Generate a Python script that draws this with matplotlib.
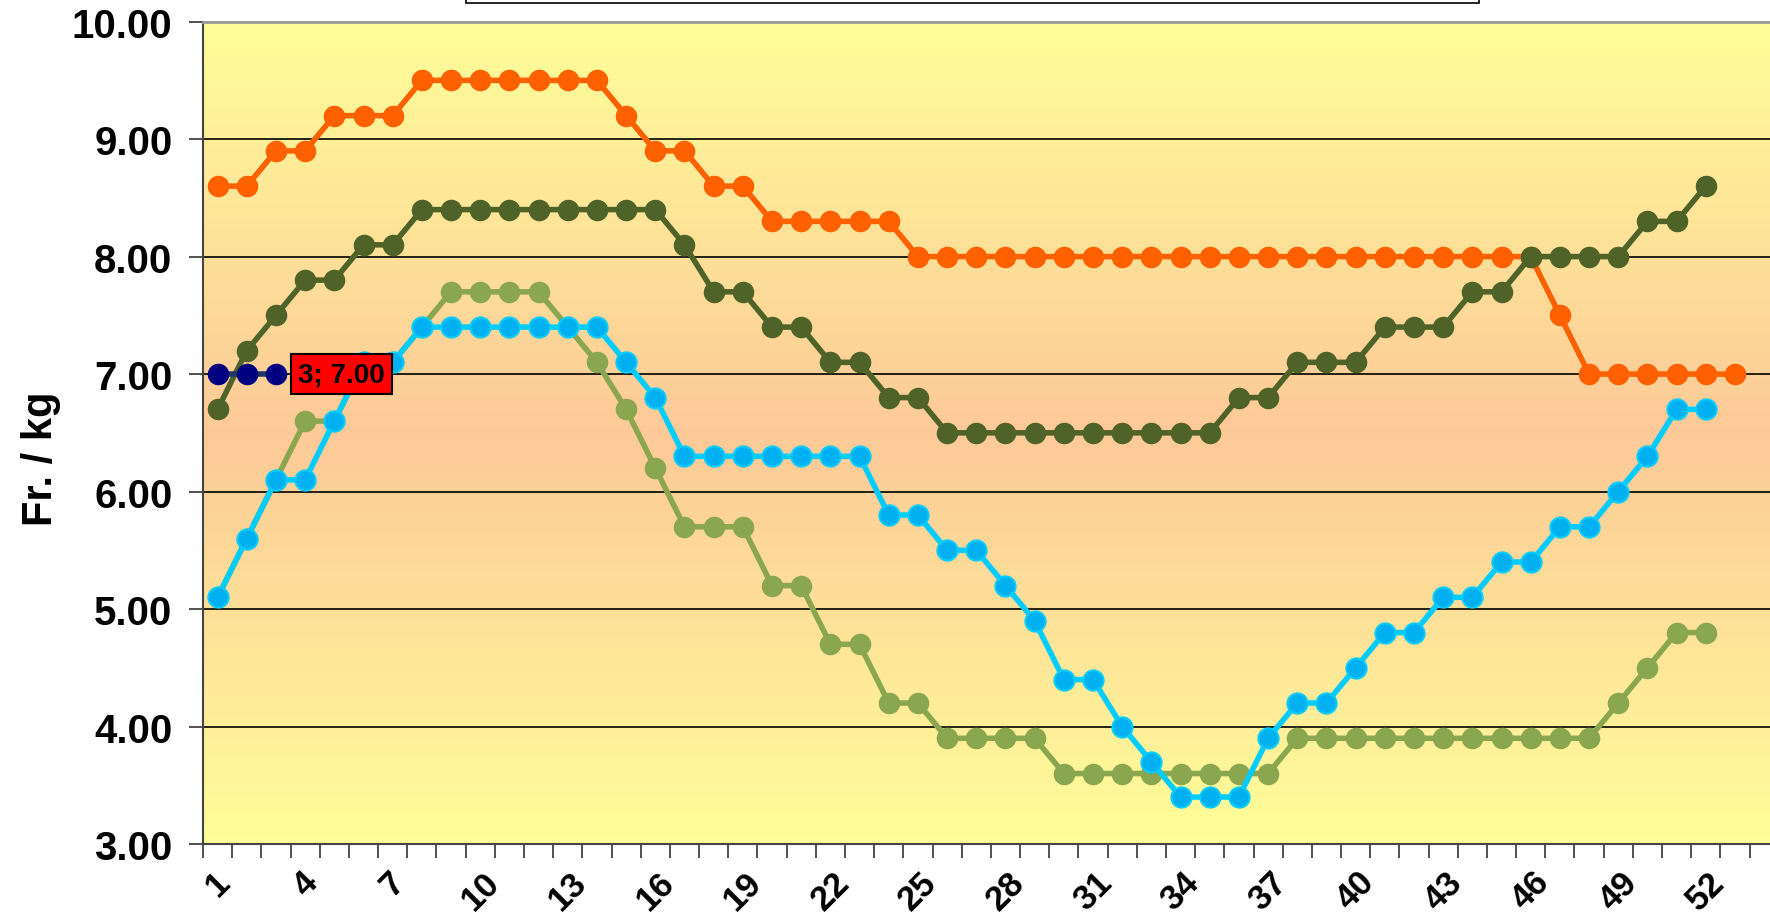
import matplotlib
matplotlib.use("Agg")
import matplotlib.pyplot as plt
import numpy as np
from matplotlib.colors import LinearSegmentedColormap
from matplotlib.patches import Rectangle

plt.rcParams['font.family'] = ['Liberation Sans', 'DejaVu Sans']
plt.rcParams['font.weight'] = 'bold'

orange = [8.6, 8.6, 8.9, 8.9, 9.2, 9.2, 9.2, 9.5, 9.5, 9.5, 9.5, 9.5, 9.5, 9.5,
          9.2, 8.9, 8.9, 8.6, 8.6, 8.3, 8.3, 8.3, 8.3, 8.3, 8.0, 8.0, 8.0, 8.0,
          8.0, 8.0, 8.0, 8.0, 8.0, 8.0, 8.0, 8.0, 8.0, 8.0, 8.0, 8.0, 8.0, 8.0,
          8.0, 8.0, 8.0, 8.0, 7.5, 7.0, 7.0, 7.0, 7.0, 7.0, 7.0]
dark_olive = [6.7, 7.2, 7.5, 7.8, 7.8, 8.1, 8.1, 8.4, 8.4, 8.4, 8.4, 8.4, 8.4, 8.4,
              8.4, 8.4, 8.1, 7.7, 7.7, 7.4, 7.4, 7.1, 7.1, 6.8, 6.8, 6.5, 6.5, 6.5,
              6.5, 6.5, 6.5, 6.5, 6.5, 6.5, 6.5, 6.8, 6.8, 7.1, 7.1, 7.1, 7.4, 7.4,
              7.4, 7.7, 7.7, 8.0, 8.0, 8.0, 8.0, 8.3, 8.3, 8.6]
light_olive = [5.1, 5.6, 6.1, 6.6, 6.6, 7.1, 7.1, 7.4, 7.7, 7.7, 7.7, 7.7, 7.4, 7.1,
               6.7, 6.2, 5.7, 5.7, 5.7, 5.2, 5.2, 4.7, 4.7, 4.2, 4.2, 3.9, 3.9, 3.9,
               3.9, 3.6, 3.6, 3.6, 3.6, 3.6, 3.6, 3.6, 3.6, 3.9, 3.9, 3.9, 3.9, 3.9,
               3.9, 3.9, 3.9, 3.9, 3.9, 3.9, 4.2, 4.5, 4.8, 4.8]
cyan = [5.1, 5.6, 6.1, 6.1, 6.6, 7.1, 7.1, 7.4, 7.4, 7.4, 7.4, 7.4, 7.4, 7.4,
        7.1, 6.8, 6.3, 6.3, 6.3, 6.3, 6.3, 6.3, 6.3, 5.8, 5.8, 5.5, 5.5, 5.2,
        4.9, 4.4, 4.4, 4.0, 3.7, 3.4, 3.4, 3.4, 3.9, 4.2, 4.2, 4.5, 4.8, 4.8,
        5.1, 5.1, 5.4, 5.4, 5.7, 5.7, 6.0, 6.3, 6.7, 6.7]
navy = [7.0, 7.0, 7.0]

tick_labels = [str(k) for k in range(1, 53, 3)]


def main():
    fig = plt.figure(figsize=(17.7, 9.2), dpi=100)
    ax = fig.add_axes([0.1147, 0.0815, 0.8853, 0.8939])

    # background gradient: yellow - peach - yellow
    cmap = LinearSegmentedColormap.from_list(
        "bg", ["#FFFE99", "#FDC998", "#FFFE99"])
    grad = np.linspace(0, 1, 256).reshape(-1, 1)
    ax.imshow(grad, aspect='auto', cmap=cmap, extent=(0.5, 54.2, 3, 10),
              zorder=0, interpolation='bicubic')

    ax.set_xlim(0.5, 54.2)
    ax.set_ylim(3, 10)

    for v in range(4, 10):
        ax.axhline(v, color='black', lw=1.2, zorder=1)

    lw = 4
    ms = 14.5
    ax.plot(range(1, len(orange) + 1), orange, color='#FF6000', lw=lw,
            marker='o', ms=ms, mfc='#FF6000', mec='#FF6000', zorder=3)
    ax.plot(range(1, len(dark_olive) + 1), dark_olive, color='#4F6228', lw=lw,
            marker='o', ms=ms, mfc='#4F6228', mec='#4F6228', zorder=4)
    ax.plot(range(1, len(light_olive) + 1), light_olive, color='#8AA64E', lw=lw,
            marker='o', ms=ms, mfc='#8AA64E', mec='#8AA64E', zorder=5)
    ax.plot(range(1, len(cyan) + 1), cyan, color='#00CCFF', lw=lw,
            marker='o', ms=ms, mfc='#00B0F0', mec='#00CCFF', mew=1.5, zorder=6)
    ax.plot(range(1, len(navy) + 1), navy, color='#1F3864', lw=lw,
            marker='o', ms=ms, mfc='#000080', mec='#000080', zorder=7)

    ax.annotate("3; 7.00", xy=(3, navy[2]), xytext=(22, 0),
                textcoords='offset pixels', ha='left', va='center',
                fontsize=20, fontweight='bold', color='black', zorder=8,
                bbox=dict(boxstyle='square,pad=0.25', fc='#FF0000', ec='black', lw=1.5))

    ax.set_yticks(range(3, 11))
    ax.set_yticklabels([f"{v:.2f}" for v in range(3, 11)], fontsize=29,
                       fontweight='bold')
    ax.set_xticks(range(1, 53, 3))
    ax.set_xticklabels(tick_labels, fontsize=25, fontweight='bold',
                       rotation=45, ha='center', va='top')
    ax.set_xticks(np.arange(0.5, 54.5, 1), minor=True)
    ax.tick_params(axis='x', which='major', length=0, pad=15)
    ax.tick_params(axis='x', which='minor', length=10, width=1.2,
                   direction='out', color='#333333')
    ax.tick_params(axis='y', length=10, width=1.2, direction='out',
                   color='#333333', pad=12)

    ax.set_ylabel("Fr. / kg", fontsize=30, fontweight='bold', labelpad=8, y=0.47)

    for side in ['left', 'bottom']:
        ax.spines[side].set_color('#444444')
        ax.spines[side].set_linewidth(1.5)
    ax.spines['top'].set_color('#999999')
    ax.spines['top'].set_linewidth(2)
    ax.spines['right'].set_visible(False)

    # legend box cut off at the top
    fig.patches.append(Rectangle((0.2634, 0.9955), 0.5721, 0.05,
                                 transform=fig.transFigure, fc='white',
                                 ec='black', lw=1.2))

    fig.savefig("out.png", dpi=100)


if __name__ == "__main__":
    main()
